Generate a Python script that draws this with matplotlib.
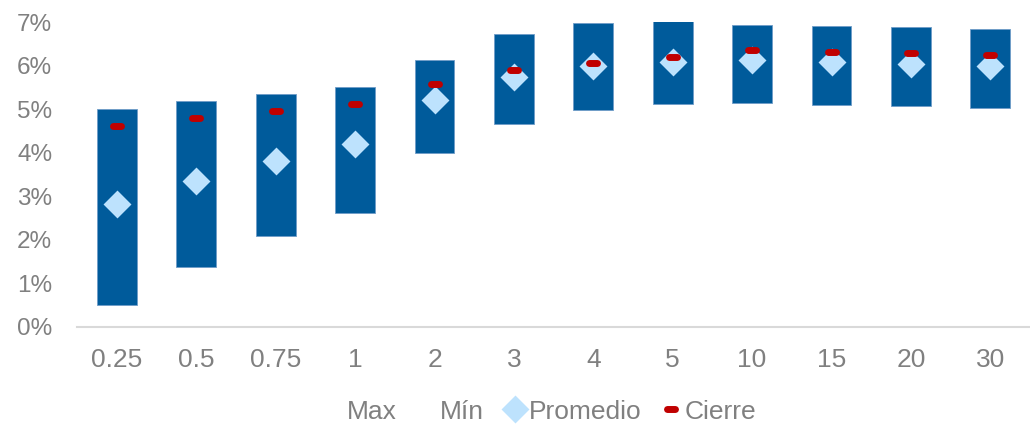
import numpy as np
import matplotlib.pyplot as plt
from matplotlib.markers import MarkerStyle
from matplotlib.patches import Patch
from matplotlib.lines import Line2D
from matplotlib.ticker import FuncFormatter

plt.rcParams['font.family'] = ['Liberation Sans', 'DejaVu Sans']

plazos = ['0.25', '0.5', '0.75', '1', '2', '3', '4', '5', '10', '15', '20', '30']
maximo = [5.00, 5.18, 5.34, 5.51, 6.14, 6.72, 6.97, 7.02, 6.94, 6.92, 6.89, 6.85]
minimo = [0.50, 1.38, 2.08, 2.62, 4.00, 4.66, 4.98, 5.11, 5.15, 5.10, 5.07, 5.03]
promedio = [2.82, 3.36, 3.82, 4.21, 5.22, 5.73, 5.98, 6.09, 6.14, 6.08, 6.03, 5.99]
cierre = [4.62, 4.80, 4.96, 5.12, 5.58, 5.89, 6.07, 6.20, 6.35, 6.32, 6.29, 6.25]

azul = '#005b9b'
celeste = '#bde2fd'
rojo = '#c00000'
gris = '#808080'

fig = plt.figure(figsize=(10.3, 4.24), dpi=100)
ax = fig.add_axes([0.075, 0.229, 0.925, 0.719])

x = np.arange(len(plazos))
alto = np.array(maximo) - np.array(minimo)
ax.bar(x, alto, bottom=minimo, width=0.5, color=azul, edgecolor='#6f9cc8', linewidth=0.6, zorder=2)

ax.plot(x, promedio, linestyle='none', marker='D', markersize=12.5, color=celeste,
        markeredgecolor=celeste, markeredgewidth=2, zorder=3)
ax.plot(x, cierre, linestyle='none', marker=MarkerStyle('_', capstyle='round'),
        markersize=5.5, markeredgewidth=5, color=rojo, zorder=4)

ax.set_xlim(-0.5, len(plazos) - 0.5)
ax.set_ylim(0, 7)
ax.set_yticks(range(0, 8))
ax.yaxis.set_major_formatter(FuncFormatter(lambda v, p: f'{v:.0f}%'))
ax.set_xticks(x)
ax.set_xticklabels(plazos)
ax.tick_params(axis='both', length=0, colors=gris)
ax.tick_params(axis='y', pad=18, labelsize=17.5)
ax.tick_params(axis='x', pad=15, labelsize=19)

for s in ['top', 'right', 'left']:
    ax.spines[s].set_visible(False)
ax.spines['bottom'].set_color('#d9d9d9')
ax.spines['bottom'].set_linewidth(1.5)

handles = [
    Patch(facecolor='none', edgecolor='none'),
    Patch(facecolor='none', edgecolor='none'),
    Line2D([], [], linestyle='none', marker='D', markersize=12.5, color=celeste,
           markeredgecolor=celeste, markeredgewidth=2),
    Line2D([], [], linestyle='none', marker=MarkerStyle('_', capstyle='round'),
           markersize=5.5, markeredgewidth=5, color=rojo),
]
leg = fig.legend(handles, ['Max', 'Mín', 'Promedio', 'Cierre'], loc='center',
                 bbox_to_anchor=(0.5237, 0.029), ncol=4, frameon=False, fontsize=19,
                 handlelength=0.8, handletextpad=0.12, columnspacing=0.75)
for t in leg.get_texts():
    t.set_color(gris)

fig.savefig('out.png', dpi=100)
